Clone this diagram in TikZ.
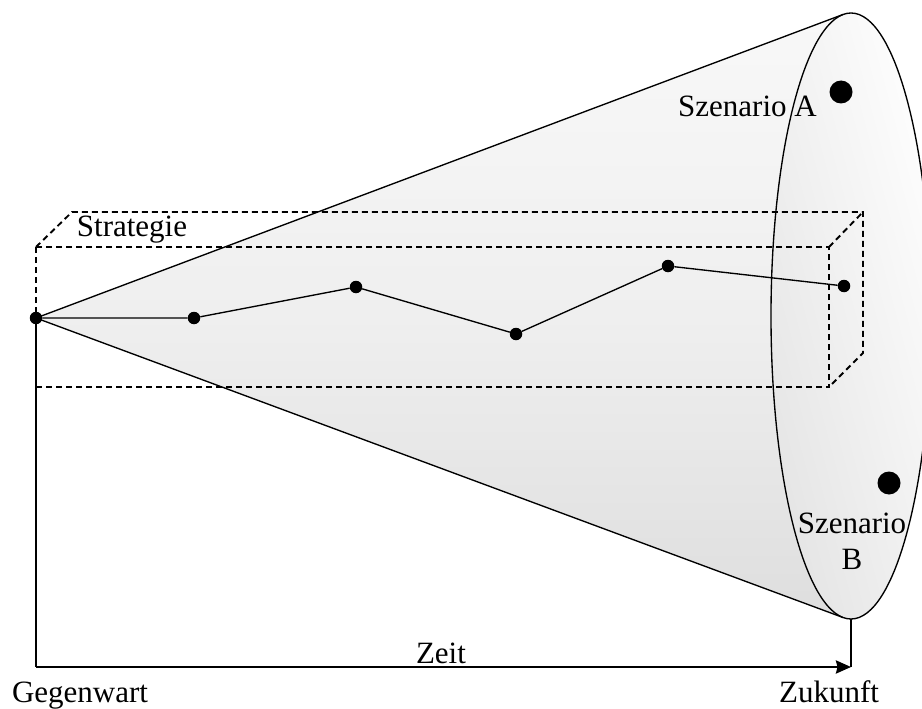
\documentclass[tikz,border=0pt]{standalone}
\usepackage{fontspec}
\setmainfont{Liberation Serif}
\usetikzlibrary{arrows.meta}
\definecolor{conetop}{HTML}{F8F8F8}
\definecolor{conemid}{HTML}{EFEFEF}
\definecolor{conebot}{HTML}{DEDEDE}
\definecolor{ellleft}{HTML}{E4E4E4}
\definecolor{ellright}{HTML}{FEFEFE}
\begin{document}
\begin{tikzpicture}[x=1pt,y=-1pt,
  lbl/.style={inner sep=0pt, anchor=base, font=\fontsize{31}{37}\selectfont},
  sdot/.style={circle, fill=black, inner sep=0pt, minimum size=12.5pt},
  bdot/.style={circle, fill=black, inner sep=0pt, minimum size=23pt},
  cline/.style={line width=1.35pt, black},
  dashbox/.style={line width=1.9pt, dash pattern=on 6pt off 4pt},
  axisline/.style={line width=2.6pt, -{Stealth[length=15pt,width=13pt,inset=1.5pt]}}
]
\useasboundingbox (0,0) rectangle (922,709);
% key points
\coordinate (apex) at (36,318);
\coordinate (ct) at (843,14.5);
\coordinate (cb) at (843,617.5);
\coordinate (ec) at (851,316);
\coordinate (eb) at (851,619);
\coordinate (axL) at (36,667);
\coordinate (axR) at (851,667);
% cone
\shade[top color=conetop, bottom color=conebot, middle color=conemid] (apex) -- (ct) -- (cb) -- cycle;
\shade[left color=ellleft, right color=ellright, shading angle=105] (ec) ellipse [x radius=80pt, y radius=303pt];
\draw[cline] (apex) -- (ct);
\draw[cline] (apex) -- (cb);
\draw[cline] (ec) ellipse [x radius=80pt, y radius=303pt];
% strategy box
\coordinate (f1) at (36,247);
\coordinate (f2) at (829,247);
\coordinate (f3) at (829,387);
\coordinate (b1) at (72,212);
\coordinate (b2) at (863,212);
\coordinate (b3) at (863,353);
\draw[dashbox] (f1) rectangle (f3);
\draw[dashbox] (f1) -- (b1) -- (b2) -- (b3) -- (f3);
\draw[dashbox] (f2) -- (b2);
% path
\node[sdot] (p0) at (36,318) {};
\node[sdot] (p1) at (194,318) {};
\node[sdot] (p2) at (356,287) {};
\node[sdot] (p3) at (516,334) {};
\node[sdot] (p4) at (668,266) {};
\node[sdot] (p5) at (844,286) {};
\draw[cline] (p0) -- (p1) -- (p2) -- (p3) -- (p4) -- (p5);
% scenarios
\node[bdot] (sa) at (841,92) {};
\node[bdot] (sb) at (889,483) {};
\node[lbl, anchor=base east] (la) at (817,117) {Szenario A};
\node[lbl] (lb1) at (852,533) {Szenario};
\node[lbl] (lb2) at (852,569) {B};
\node[lbl] (ls) at (132,236) {Strategie};
% time axis
\draw[cline] (apex) -- (axL);
\draw[cline] (eb) -- (axR);
\draw[axisline] (axL) -- (axR);
\node[lbl] (lz) at (441,663) {Zeit};
\node[lbl] (lg) at (80,702) {Gegenwart};
\node[lbl] (lk) at (829,702) {Zukunft};
\end{tikzpicture}
\end{document}
